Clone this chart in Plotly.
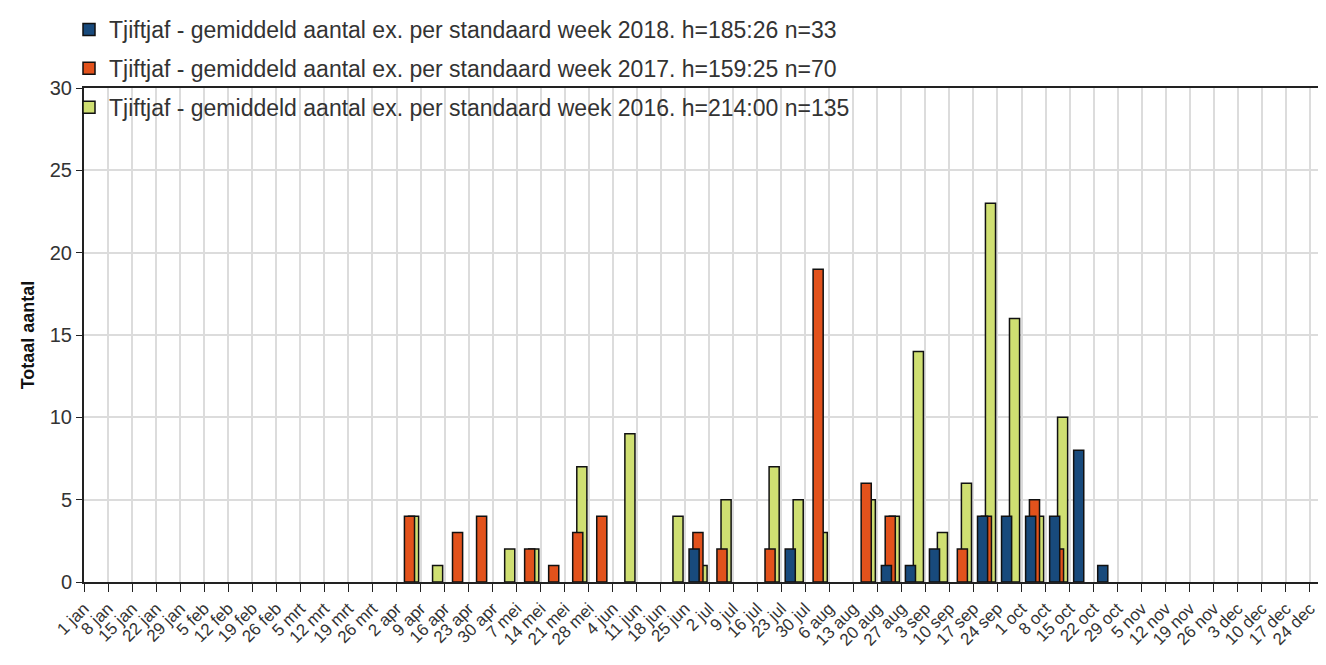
import plotly.graph_objects as go

weeks = ["1 jan", "8 jan", "15 jan", "22 jan", "29 jan", "5 feb", "12 feb", "19 feb", "26 feb",
         "5 mrt", "12 mrt", "19 mrt", "26 mrt", "2 apr", "9 apr", "16 apr", "23 apr", "30 apr",
         "7 mei", "14 mei", "21 mei", "28 mei", "4 jun", "11 jun", "18 jun", "25 jun",
         "2 jul", "9 jul", "16 jul", "23 jul", "30 jul", "6 aug", "13 aug", "20 aug", "27 aug",
         "3 sep", "10 sep", "17 sep", "24 sep", "1 oct", "8 oct", "15 oct", "22 oct", "29 oct",
         "5 nov", "12 nov", "19 nov", "26 nov", "3 dec", "10 dec", "17 dec", "24 dec"]

# weekly values, one per week label (0 = no bar)
y2016 = [0]*13 + [4, 1, 0, 0, 2, 2, 0, 7, 0, 9, 0, 4, 1, 5, 0, 7, 5, 3, 0, 5, 4, 14, 3, 6, 23, 16, 4, 10, 0, 0] + [0]*9
y2017 = [0]*13 + [4, 0, 3, 4, 0, 2, 1, 3, 4, 0, 0, 0, 3, 2, 0, 2, 0, 19, 0, 6, 4, 0, 0, 2, 4, 0, 5, 2, 0, 0] + [0]*9
y2018 = [0]*13 + [0, 0, 0, 0, 0, 0, 0, 0, 0, 0, 0, 0, 2, 0, 0, 0, 2, 0, 0, 0, 1, 1, 2, 0, 4, 4, 4, 4, 8, 1] + [0]*9

names = {
    "2018": "Tjiftjaf - gemiddeld aantal ex. per standaard week 2018. h=185:26 n=33",
    "2017": "Tjiftjaf - gemiddeld aantal ex. per standaard week 2017. h=159:25 n=70",
    "2016": "Tjiftjaf - gemiddeld aantal ex. per standaard week 2016. h=214:00 n=135",
}
colors = {"2018": "#184a7c", "2017": "#e2521c", "2016": "#cfdf72"}
offsets = {"2018": 0.17, "2017": 0.33, "2016": 0.5}
ranks = {"2018": 1, "2017": 2, "2016": 3}

idx = list(range(len(weeks)))
fig = go.Figure()
# draw 2016 first so 2017/2018 sit on top
for yr, vals in [("2016", y2016), ("2017", y2017), ("2018", y2018)]:
    fig.add_trace(go.Bar(
        x=idx, y=[v if v else None for v in vals],
        name=names[yr], legendgroup=yr, legendrank=ranks[yr],
        offset=offsets[yr], width=0.42,
        marker=dict(color=colors[yr], line=dict(color="#111", width=1.5)),
    ))

W, H = 1326, 665
# page body has an 8px margin, so everything is placed 8px up/left
left, top, bottom = 76, 80, 91
font = "Liberation Sans Narrow, Arial Narrow, Liberation Sans, sans-serif"
fig.update_layout(
    width=W, height=H,
    barmode="overlay",
    plot_bgcolor="white", paper_bgcolor="white",
    # zero top/left margins; the plot box is placed by the axis domains
    # so the legend can sit above it without pushing the margins
    margin=dict(l=0, r=0, t=0, b=bottom),
    showlegend=True,
    legend=dict(x=61 / W, y=1.0, xanchor="left", yanchor="top",
                traceorder="grouped", tracegroupgap=6,
                bgcolor="rgba(0,0,0,0)",
                font=dict(family=font, size=23, color="#333")),
    xaxis=dict(domain=[left / W, 1], range=[0, 52.0], tickmode="array",
               tickvals=idx, ticktext=weeks,
               tickangle=-45, tickfont=dict(family=font, size=17, color="#333"),
               showgrid=True, gridcolor="#dcdcdc", gridwidth=2, automargin=False,
               ticks="outside", ticklen=8, tickcolor="#222",
               showline=True, linecolor="#222", linewidth=2, mirror=True, zeroline=False),
    yaxis=dict(domain=[0, 1 - top / (H - bottom)], range=[0, 30], dtick=5,
               tickfont=dict(family=font, size=20, color="#333"),
               showgrid=True, gridcolor="#dcdcdc", gridwidth=2, automargin=False,
               ticks="outside", ticklen=6, tickcolor="#222",
               showline=True, linecolor="#222", linewidth=2, zeroline=False,
               title=dict(text="<b>Totaal aantal</b>", standoff=10,
                          font=dict(family="Liberation Sans, Arial, sans-serif", size=18, color="#111"))),
)

fig.write_html("out.html")
